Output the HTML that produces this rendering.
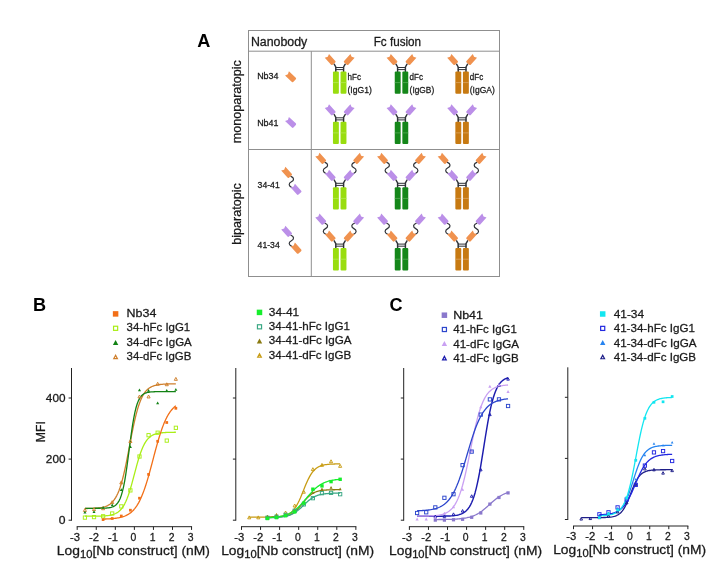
<!DOCTYPE html>
<html lang="en"><head><meta charset="utf-8"><title>Figure</title>
<style>html,body{margin:0;padding:0;background:#fff;}svg{display:block;font-family:"Liberation Sans", sans-serif;}text{white-space:pre;stroke:#1a1a1a;stroke-width:0.28px;stroke-linejoin:round;}text.b{stroke:none;}svg{will-change:transform;}</style></head><body>
<svg width="727" height="581" viewBox="0 0 727 581">
<rect width="727" height="581" fill="#fff"/>
<g fill="none" stroke="#8f8f8f" stroke-width="1">
<rect x="248.5" y="30.5" width="251.0" height="246.0"/>
<line x1="248.5" y1="51.2" x2="499.5" y2="51.2"/>
<line x1="248.5" y1="149.5" x2="499.5" y2="149.5"/>
<line x1="311.3" y1="51.2" x2="311.3" y2="276.5"/>
</g>
<text x="197.30" y="47.40" font-size="18.1" text-anchor="start" fill="#000" font-weight="bold" class="b" >A</text>
<text x="250.90" y="45.80" font-size="12.3" text-anchor="start" fill="#1a1a1a" textLength="56.40" lengthAdjust="spacingAndGlyphs" >Nanobody</text>
<text x="373.70" y="45.80" font-size="12.3" text-anchor="start" fill="#1a1a1a" textLength="47.40" lengthAdjust="spacingAndGlyphs" >Fc fusion</text>
<text x="241.00" y="143.20" font-size="12.5" text-anchor="start" fill="#1a1a1a" textLength="83.00" lengthAdjust="spacingAndGlyphs" transform="rotate(-90 241.00 143.20)" >monoparatopic</text>
<text x="241.00" y="244.70" font-size="12.5" text-anchor="start" fill="#1a1a1a" textLength="61.40" lengthAdjust="spacingAndGlyphs" transform="rotate(-90 241.00 244.70)" >biparatopic</text>
<text x="257.20" y="78.60" font-size="9.5" text-anchor="start" fill="#1a1a1a" textLength="21.30" lengthAdjust="spacingAndGlyphs" >Nb34</text>
<text x="257.20" y="125.80" font-size="9.5" text-anchor="start" fill="#1a1a1a" textLength="21.30" lengthAdjust="spacingAndGlyphs" >Nb41</text>
<text x="257.60" y="187.70" font-size="9.5" text-anchor="start" fill="#1a1a1a" textLength="22.10" lengthAdjust="spacingAndGlyphs" >34-41</text>
<text x="257.60" y="247.70" font-size="9.5" text-anchor="start" fill="#1a1a1a" textLength="22.10" lengthAdjust="spacingAndGlyphs" >41-34</text>
<text x="347.50" y="79.90" font-size="9.5" text-anchor="start" fill="#1a1a1a" textLength="13.40" lengthAdjust="spacingAndGlyphs" >hFc</text>
<text x="347.50" y="92.50" font-size="9.5" text-anchor="start" fill="#1a1a1a" textLength="24.40" lengthAdjust="spacingAndGlyphs" >(IgG1)</text>
<text x="409.60" y="79.90" font-size="9.5" text-anchor="start" fill="#1a1a1a" textLength="13.40" lengthAdjust="spacingAndGlyphs" >dFc</text>
<text x="409.60" y="92.50" font-size="9.5" text-anchor="start" fill="#1a1a1a" textLength="24.60" lengthAdjust="spacingAndGlyphs" >(IgGB)</text>
<text x="469.80" y="79.90" font-size="9.5" text-anchor="start" fill="#1a1a1a" textLength="13.40" lengthAdjust="spacingAndGlyphs" >dFc</text>
<text x="469.80" y="92.50" font-size="9.5" text-anchor="start" fill="#1a1a1a" textLength="25.00" lengthAdjust="spacingAndGlyphs" >(IgGA)</text>
<g fill="none" stroke="#2f3238" stroke-width="1.45" stroke-linecap="round" stroke-linejoin="round">
<path d="M335.80,71.70 L335.80,67.00 L334.20,64.20"/>
<path d="M343.60,71.70 L343.60,67.00 L345.20,64.20"/>
<line x1="335.80" y1="67.50" x2="343.60" y2="67.50" stroke-width="1.0"/>
<line x1="335.80" y1="69.60" x2="343.60" y2="69.60" stroke-width="1.0"/>
</g>
<path d="M-4.15,-2.85 L5.25,-2.85 L3.95,0 L5.25,2.85 L-4.15,2.85 Q-5.25,2.85 -5.25,1.75 L-5.25,-1.75 Q-5.25,-2.85 -4.15,-2.85 Z" fill="#f0924f" transform="translate(330.40 59.70) rotate(228)"/>
<path d="M-4.15,-2.85 L5.25,-2.85 L3.95,0 L5.25,2.85 L-4.15,2.85 Q-5.25,2.85 -5.25,1.75 L-5.25,-1.75 Q-5.25,-2.85 -4.15,-2.85 Z" fill="#f0924f" transform="translate(349.00 59.70) rotate(-48)"/>
<rect x="332.95" y="71.40" width="5.9" height="22.4" rx="1.0" fill="#99dd0f"/>
<line x1="332.95" y1="82.60" x2="338.85" y2="82.60" stroke="#b4e854" stroke-width="0.8"/>
<rect x="340.55" y="71.40" width="5.9" height="22.4" rx="1.0" fill="#99dd0f"/>
<line x1="340.55" y1="82.60" x2="346.45" y2="82.60" stroke="#b4e854" stroke-width="0.8"/>
<g fill="none" stroke="#2f3238" stroke-width="1.45" stroke-linecap="round" stroke-linejoin="round">
<path d="M335.80,122.00 L335.80,117.30 L334.20,114.50"/>
<path d="M343.60,122.00 L343.60,117.30 L345.20,114.50"/>
<line x1="335.80" y1="117.80" x2="343.60" y2="117.80" stroke-width="1.0"/>
<line x1="335.80" y1="119.90" x2="343.60" y2="119.90" stroke-width="1.0"/>
</g>
<path d="M-4.15,-2.85 L5.25,-2.85 L3.95,0 L5.25,2.85 L-4.15,2.85 Q-5.25,2.85 -5.25,1.75 L-5.25,-1.75 Q-5.25,-2.85 -4.15,-2.85 Z" fill="#bb8fe8" transform="translate(330.40 110.00) rotate(228)"/>
<path d="M-4.15,-2.85 L5.25,-2.85 L3.95,0 L5.25,2.85 L-4.15,2.85 Q-5.25,2.85 -5.25,1.75 L-5.25,-1.75 Q-5.25,-2.85 -4.15,-2.85 Z" fill="#bb8fe8" transform="translate(349.00 110.00) rotate(-48)"/>
<rect x="332.95" y="121.70" width="5.9" height="22.4" rx="1.0" fill="#99dd0f"/>
<line x1="332.95" y1="132.90" x2="338.85" y2="132.90" stroke="#b4e854" stroke-width="0.8"/>
<rect x="340.55" y="121.70" width="5.9" height="22.4" rx="1.0" fill="#99dd0f"/>
<line x1="340.55" y1="132.90" x2="346.45" y2="132.90" stroke="#b4e854" stroke-width="0.8"/>
<g fill="none" stroke="#2f3238" stroke-width="1.45" stroke-linecap="round" stroke-linejoin="round">
<path d="M335.80,187.50 L335.80,182.80 L334.20,180.00"/>
<path d="M343.60,187.50 L343.60,182.80 L345.20,180.00"/>
<line x1="335.80" y1="183.30" x2="343.60" y2="183.30" stroke-width="1.0"/>
<line x1="335.80" y1="185.40" x2="343.60" y2="185.40" stroke-width="1.0"/>
</g>
<path d="M325.00,162.40 C328.30,163.60 328.50,166.20 325.50,167.80 S322.50,171.80 325.80,173.50" fill="none" stroke="#2f3238" stroke-width="1.2" stroke-linecap="round"/>
<path d="M-4.15,-2.85 L5.25,-2.85 L3.95,0 L5.25,2.85 L-4.15,2.85 Q-5.25,2.85 -5.25,1.75 L-5.25,-1.75 Q-5.25,-2.85 -4.15,-2.85 Z" fill="#f0924f" transform="translate(320.90 158.60) rotate(228)"/>
<path d="M-4.15,-2.85 L5.25,-2.85 L3.95,0 L5.25,2.85 L-4.15,2.85 Q-5.25,2.85 -5.25,1.75 L-5.25,-1.75 Q-5.25,-2.85 -4.15,-2.85 Z" fill="#bb8fe8" transform="translate(330.40 175.50) rotate(228)"/>
<path d="M354.40,162.40 C351.10,163.60 350.90,166.20 353.90,167.80 S356.90,171.80 353.60,173.50" fill="none" stroke="#2f3238" stroke-width="1.2" stroke-linecap="round"/>
<path d="M-4.15,-2.85 L5.25,-2.85 L3.95,0 L5.25,2.85 L-4.15,2.85 Q-5.25,2.85 -5.25,1.75 L-5.25,-1.75 Q-5.25,-2.85 -4.15,-2.85 Z" fill="#f0924f" transform="translate(358.50 158.60) rotate(-48)"/>
<path d="M-4.15,-2.85 L5.25,-2.85 L3.95,0 L5.25,2.85 L-4.15,2.85 Q-5.25,2.85 -5.25,1.75 L-5.25,-1.75 Q-5.25,-2.85 -4.15,-2.85 Z" fill="#bb8fe8" transform="translate(349.00 175.50) rotate(-48)"/>
<rect x="332.95" y="187.20" width="5.9" height="22.4" rx="1.0" fill="#99dd0f"/>
<line x1="332.95" y1="198.40" x2="338.85" y2="198.40" stroke="#b4e854" stroke-width="0.8"/>
<rect x="340.55" y="187.20" width="5.9" height="22.4" rx="1.0" fill="#99dd0f"/>
<line x1="340.55" y1="198.40" x2="346.45" y2="198.40" stroke="#b4e854" stroke-width="0.8"/>
<g fill="none" stroke="#2f3238" stroke-width="1.45" stroke-linecap="round" stroke-linejoin="round">
<path d="M335.80,248.30 L335.80,243.60 L334.20,240.80"/>
<path d="M343.60,248.30 L343.60,243.60 L345.20,240.80"/>
<line x1="335.80" y1="244.10" x2="343.60" y2="244.10" stroke-width="1.0"/>
<line x1="335.80" y1="246.20" x2="343.60" y2="246.20" stroke-width="1.0"/>
</g>
<path d="M325.00,223.20 C328.30,224.40 328.50,227.00 325.50,228.60 S322.50,232.60 325.80,234.30" fill="none" stroke="#2f3238" stroke-width="1.2" stroke-linecap="round"/>
<path d="M-4.15,-2.85 L5.25,-2.85 L3.95,0 L5.25,2.85 L-4.15,2.85 Q-5.25,2.85 -5.25,1.75 L-5.25,-1.75 Q-5.25,-2.85 -4.15,-2.85 Z" fill="#bb8fe8" transform="translate(320.90 219.40) rotate(228)"/>
<path d="M-4.15,-2.85 L5.25,-2.85 L3.95,0 L5.25,2.85 L-4.15,2.85 Q-5.25,2.85 -5.25,1.75 L-5.25,-1.75 Q-5.25,-2.85 -4.15,-2.85 Z" fill="#f0924f" transform="translate(330.40 236.30) rotate(228)"/>
<path d="M354.40,223.20 C351.10,224.40 350.90,227.00 353.90,228.60 S356.90,232.60 353.60,234.30" fill="none" stroke="#2f3238" stroke-width="1.2" stroke-linecap="round"/>
<path d="M-4.15,-2.85 L5.25,-2.85 L3.95,0 L5.25,2.85 L-4.15,2.85 Q-5.25,2.85 -5.25,1.75 L-5.25,-1.75 Q-5.25,-2.85 -4.15,-2.85 Z" fill="#bb8fe8" transform="translate(358.50 219.40) rotate(-48)"/>
<path d="M-4.15,-2.85 L5.25,-2.85 L3.95,0 L5.25,2.85 L-4.15,2.85 Q-5.25,2.85 -5.25,1.75 L-5.25,-1.75 Q-5.25,-2.85 -4.15,-2.85 Z" fill="#f0924f" transform="translate(349.00 236.30) rotate(-48)"/>
<rect x="332.95" y="248.00" width="5.9" height="22.4" rx="1.0" fill="#99dd0f"/>
<line x1="332.95" y1="259.20" x2="338.85" y2="259.20" stroke="#b4e854" stroke-width="0.8"/>
<rect x="340.55" y="248.00" width="5.9" height="22.4" rx="1.0" fill="#99dd0f"/>
<line x1="340.55" y1="259.20" x2="346.45" y2="259.20" stroke="#b4e854" stroke-width="0.8"/>
<g fill="none" stroke="#2f3238" stroke-width="1.45" stroke-linecap="round" stroke-linejoin="round">
<path d="M397.60,71.70 L397.60,67.00 L396.00,64.20"/>
<path d="M405.40,71.70 L405.40,67.00 L407.00,64.20"/>
<line x1="397.60" y1="67.50" x2="405.40" y2="67.50" stroke-width="1.0"/>
<line x1="397.60" y1="69.60" x2="405.40" y2="69.60" stroke-width="1.0"/>
</g>
<path d="M-4.15,-2.85 L5.25,-2.85 L3.95,0 L5.25,2.85 L-4.15,2.85 Q-5.25,2.85 -5.25,1.75 L-5.25,-1.75 Q-5.25,-2.85 -4.15,-2.85 Z" fill="#f0924f" transform="translate(392.20 59.70) rotate(228)"/>
<path d="M-4.15,-2.85 L5.25,-2.85 L3.95,0 L5.25,2.85 L-4.15,2.85 Q-5.25,2.85 -5.25,1.75 L-5.25,-1.75 Q-5.25,-2.85 -4.15,-2.85 Z" fill="#f0924f" transform="translate(410.80 59.70) rotate(-48)"/>
<rect x="394.75" y="71.40" width="5.9" height="22.4" rx="1.0" fill="#15871a"/>
<line x1="394.75" y1="82.60" x2="400.65" y2="82.60" stroke="#55ab58" stroke-width="0.8"/>
<rect x="402.35" y="71.40" width="5.9" height="22.4" rx="1.0" fill="#15871a"/>
<line x1="402.35" y1="82.60" x2="408.25" y2="82.60" stroke="#55ab58" stroke-width="0.8"/>
<g fill="none" stroke="#2f3238" stroke-width="1.45" stroke-linecap="round" stroke-linejoin="round">
<path d="M397.60,122.00 L397.60,117.30 L396.00,114.50"/>
<path d="M405.40,122.00 L405.40,117.30 L407.00,114.50"/>
<line x1="397.60" y1="117.80" x2="405.40" y2="117.80" stroke-width="1.0"/>
<line x1="397.60" y1="119.90" x2="405.40" y2="119.90" stroke-width="1.0"/>
</g>
<path d="M-4.15,-2.85 L5.25,-2.85 L3.95,0 L5.25,2.85 L-4.15,2.85 Q-5.25,2.85 -5.25,1.75 L-5.25,-1.75 Q-5.25,-2.85 -4.15,-2.85 Z" fill="#bb8fe8" transform="translate(392.20 110.00) rotate(228)"/>
<path d="M-4.15,-2.85 L5.25,-2.85 L3.95,0 L5.25,2.85 L-4.15,2.85 Q-5.25,2.85 -5.25,1.75 L-5.25,-1.75 Q-5.25,-2.85 -4.15,-2.85 Z" fill="#bb8fe8" transform="translate(410.80 110.00) rotate(-48)"/>
<rect x="394.75" y="121.70" width="5.9" height="22.4" rx="1.0" fill="#15871a"/>
<line x1="394.75" y1="132.90" x2="400.65" y2="132.90" stroke="#55ab58" stroke-width="0.8"/>
<rect x="402.35" y="121.70" width="5.9" height="22.4" rx="1.0" fill="#15871a"/>
<line x1="402.35" y1="132.90" x2="408.25" y2="132.90" stroke="#55ab58" stroke-width="0.8"/>
<g fill="none" stroke="#2f3238" stroke-width="1.45" stroke-linecap="round" stroke-linejoin="round">
<path d="M397.60,187.50 L397.60,182.80 L396.00,180.00"/>
<path d="M405.40,187.50 L405.40,182.80 L407.00,180.00"/>
<line x1="397.60" y1="183.30" x2="405.40" y2="183.30" stroke-width="1.0"/>
<line x1="397.60" y1="185.40" x2="405.40" y2="185.40" stroke-width="1.0"/>
</g>
<path d="M386.80,162.40 C390.10,163.60 390.30,166.20 387.30,167.80 S384.30,171.80 387.60,173.50" fill="none" stroke="#2f3238" stroke-width="1.2" stroke-linecap="round"/>
<path d="M-4.15,-2.85 L5.25,-2.85 L3.95,0 L5.25,2.85 L-4.15,2.85 Q-5.25,2.85 -5.25,1.75 L-5.25,-1.75 Q-5.25,-2.85 -4.15,-2.85 Z" fill="#f0924f" transform="translate(382.70 158.60) rotate(228)"/>
<path d="M-4.15,-2.85 L5.25,-2.85 L3.95,0 L5.25,2.85 L-4.15,2.85 Q-5.25,2.85 -5.25,1.75 L-5.25,-1.75 Q-5.25,-2.85 -4.15,-2.85 Z" fill="#bb8fe8" transform="translate(392.20 175.50) rotate(228)"/>
<path d="M416.20,162.40 C412.90,163.60 412.70,166.20 415.70,167.80 S418.70,171.80 415.40,173.50" fill="none" stroke="#2f3238" stroke-width="1.2" stroke-linecap="round"/>
<path d="M-4.15,-2.85 L5.25,-2.85 L3.95,0 L5.25,2.85 L-4.15,2.85 Q-5.25,2.85 -5.25,1.75 L-5.25,-1.75 Q-5.25,-2.85 -4.15,-2.85 Z" fill="#f0924f" transform="translate(420.30 158.60) rotate(-48)"/>
<path d="M-4.15,-2.85 L5.25,-2.85 L3.95,0 L5.25,2.85 L-4.15,2.85 Q-5.25,2.85 -5.25,1.75 L-5.25,-1.75 Q-5.25,-2.85 -4.15,-2.85 Z" fill="#bb8fe8" transform="translate(410.80 175.50) rotate(-48)"/>
<rect x="394.75" y="187.20" width="5.9" height="22.4" rx="1.0" fill="#15871a"/>
<line x1="394.75" y1="198.40" x2="400.65" y2="198.40" stroke="#55ab58" stroke-width="0.8"/>
<rect x="402.35" y="187.20" width="5.9" height="22.4" rx="1.0" fill="#15871a"/>
<line x1="402.35" y1="198.40" x2="408.25" y2="198.40" stroke="#55ab58" stroke-width="0.8"/>
<g fill="none" stroke="#2f3238" stroke-width="1.45" stroke-linecap="round" stroke-linejoin="round">
<path d="M397.60,248.30 L397.60,243.60 L396.00,240.80"/>
<path d="M405.40,248.30 L405.40,243.60 L407.00,240.80"/>
<line x1="397.60" y1="244.10" x2="405.40" y2="244.10" stroke-width="1.0"/>
<line x1="397.60" y1="246.20" x2="405.40" y2="246.20" stroke-width="1.0"/>
</g>
<path d="M386.80,223.20 C390.10,224.40 390.30,227.00 387.30,228.60 S384.30,232.60 387.60,234.30" fill="none" stroke="#2f3238" stroke-width="1.2" stroke-linecap="round"/>
<path d="M-4.15,-2.85 L5.25,-2.85 L3.95,0 L5.25,2.85 L-4.15,2.85 Q-5.25,2.85 -5.25,1.75 L-5.25,-1.75 Q-5.25,-2.85 -4.15,-2.85 Z" fill="#bb8fe8" transform="translate(382.70 219.40) rotate(228)"/>
<path d="M-4.15,-2.85 L5.25,-2.85 L3.95,0 L5.25,2.85 L-4.15,2.85 Q-5.25,2.85 -5.25,1.75 L-5.25,-1.75 Q-5.25,-2.85 -4.15,-2.85 Z" fill="#f0924f" transform="translate(392.20 236.30) rotate(228)"/>
<path d="M416.20,223.20 C412.90,224.40 412.70,227.00 415.70,228.60 S418.70,232.60 415.40,234.30" fill="none" stroke="#2f3238" stroke-width="1.2" stroke-linecap="round"/>
<path d="M-4.15,-2.85 L5.25,-2.85 L3.95,0 L5.25,2.85 L-4.15,2.85 Q-5.25,2.85 -5.25,1.75 L-5.25,-1.75 Q-5.25,-2.85 -4.15,-2.85 Z" fill="#bb8fe8" transform="translate(420.30 219.40) rotate(-48)"/>
<path d="M-4.15,-2.85 L5.25,-2.85 L3.95,0 L5.25,2.85 L-4.15,2.85 Q-5.25,2.85 -5.25,1.75 L-5.25,-1.75 Q-5.25,-2.85 -4.15,-2.85 Z" fill="#f0924f" transform="translate(410.80 236.30) rotate(-48)"/>
<rect x="394.75" y="248.00" width="5.9" height="22.4" rx="1.0" fill="#15871a"/>
<line x1="394.75" y1="259.20" x2="400.65" y2="259.20" stroke="#55ab58" stroke-width="0.8"/>
<rect x="402.35" y="248.00" width="5.9" height="22.4" rx="1.0" fill="#15871a"/>
<line x1="402.35" y1="259.20" x2="408.25" y2="259.20" stroke="#55ab58" stroke-width="0.8"/>
<g fill="none" stroke="#2f3238" stroke-width="1.45" stroke-linecap="round" stroke-linejoin="round">
<path d="M458.20,71.70 L458.20,67.00 L456.60,64.20"/>
<path d="M466.00,71.70 L466.00,67.00 L467.60,64.20"/>
<line x1="458.20" y1="67.50" x2="466.00" y2="67.50" stroke-width="1.0"/>
<line x1="458.20" y1="69.60" x2="466.00" y2="69.60" stroke-width="1.0"/>
</g>
<path d="M-4.15,-2.85 L5.25,-2.85 L3.95,0 L5.25,2.85 L-4.15,2.85 Q-5.25,2.85 -5.25,1.75 L-5.25,-1.75 Q-5.25,-2.85 -4.15,-2.85 Z" fill="#f0924f" transform="translate(452.80 59.70) rotate(228)"/>
<path d="M-4.15,-2.85 L5.25,-2.85 L3.95,0 L5.25,2.85 L-4.15,2.85 Q-5.25,2.85 -5.25,1.75 L-5.25,-1.75 Q-5.25,-2.85 -4.15,-2.85 Z" fill="#f0924f" transform="translate(471.40 59.70) rotate(-48)"/>
<rect x="455.35" y="71.40" width="5.9" height="22.4" rx="1.0" fill="#c77a12"/>
<line x1="455.35" y1="82.60" x2="461.25" y2="82.60" stroke="#dba562" stroke-width="0.8"/>
<rect x="462.95" y="71.40" width="5.9" height="22.4" rx="1.0" fill="#c77a12"/>
<line x1="462.95" y1="82.60" x2="468.85" y2="82.60" stroke="#dba562" stroke-width="0.8"/>
<g fill="none" stroke="#2f3238" stroke-width="1.45" stroke-linecap="round" stroke-linejoin="round">
<path d="M458.20,122.00 L458.20,117.30 L456.60,114.50"/>
<path d="M466.00,122.00 L466.00,117.30 L467.60,114.50"/>
<line x1="458.20" y1="117.80" x2="466.00" y2="117.80" stroke-width="1.0"/>
<line x1="458.20" y1="119.90" x2="466.00" y2="119.90" stroke-width="1.0"/>
</g>
<path d="M-4.15,-2.85 L5.25,-2.85 L3.95,0 L5.25,2.85 L-4.15,2.85 Q-5.25,2.85 -5.25,1.75 L-5.25,-1.75 Q-5.25,-2.85 -4.15,-2.85 Z" fill="#bb8fe8" transform="translate(452.80 110.00) rotate(228)"/>
<path d="M-4.15,-2.85 L5.25,-2.85 L3.95,0 L5.25,2.85 L-4.15,2.85 Q-5.25,2.85 -5.25,1.75 L-5.25,-1.75 Q-5.25,-2.85 -4.15,-2.85 Z" fill="#bb8fe8" transform="translate(471.40 110.00) rotate(-48)"/>
<rect x="455.35" y="121.70" width="5.9" height="22.4" rx="1.0" fill="#c77a12"/>
<line x1="455.35" y1="132.90" x2="461.25" y2="132.90" stroke="#dba562" stroke-width="0.8"/>
<rect x="462.95" y="121.70" width="5.9" height="22.4" rx="1.0" fill="#c77a12"/>
<line x1="462.95" y1="132.90" x2="468.85" y2="132.90" stroke="#dba562" stroke-width="0.8"/>
<g fill="none" stroke="#2f3238" stroke-width="1.45" stroke-linecap="round" stroke-linejoin="round">
<path d="M458.20,187.50 L458.20,182.80 L456.60,180.00"/>
<path d="M466.00,187.50 L466.00,182.80 L467.60,180.00"/>
<line x1="458.20" y1="183.30" x2="466.00" y2="183.30" stroke-width="1.0"/>
<line x1="458.20" y1="185.40" x2="466.00" y2="185.40" stroke-width="1.0"/>
</g>
<path d="M447.40,162.40 C450.70,163.60 450.90,166.20 447.90,167.80 S444.90,171.80 448.20,173.50" fill="none" stroke="#2f3238" stroke-width="1.2" stroke-linecap="round"/>
<path d="M-4.15,-2.85 L5.25,-2.85 L3.95,0 L5.25,2.85 L-4.15,2.85 Q-5.25,2.85 -5.25,1.75 L-5.25,-1.75 Q-5.25,-2.85 -4.15,-2.85 Z" fill="#f0924f" transform="translate(443.30 158.60) rotate(228)"/>
<path d="M-4.15,-2.85 L5.25,-2.85 L3.95,0 L5.25,2.85 L-4.15,2.85 Q-5.25,2.85 -5.25,1.75 L-5.25,-1.75 Q-5.25,-2.85 -4.15,-2.85 Z" fill="#bb8fe8" transform="translate(452.80 175.50) rotate(228)"/>
<path d="M476.80,162.40 C473.50,163.60 473.30,166.20 476.30,167.80 S479.30,171.80 476.00,173.50" fill="none" stroke="#2f3238" stroke-width="1.2" stroke-linecap="round"/>
<path d="M-4.15,-2.85 L5.25,-2.85 L3.95,0 L5.25,2.85 L-4.15,2.85 Q-5.25,2.85 -5.25,1.75 L-5.25,-1.75 Q-5.25,-2.85 -4.15,-2.85 Z" fill="#f0924f" transform="translate(480.90 158.60) rotate(-48)"/>
<path d="M-4.15,-2.85 L5.25,-2.85 L3.95,0 L5.25,2.85 L-4.15,2.85 Q-5.25,2.85 -5.25,1.75 L-5.25,-1.75 Q-5.25,-2.85 -4.15,-2.85 Z" fill="#bb8fe8" transform="translate(471.40 175.50) rotate(-48)"/>
<rect x="455.35" y="187.20" width="5.9" height="22.4" rx="1.0" fill="#c77a12"/>
<line x1="455.35" y1="198.40" x2="461.25" y2="198.40" stroke="#dba562" stroke-width="0.8"/>
<rect x="462.95" y="187.20" width="5.9" height="22.4" rx="1.0" fill="#c77a12"/>
<line x1="462.95" y1="198.40" x2="468.85" y2="198.40" stroke="#dba562" stroke-width="0.8"/>
<g fill="none" stroke="#2f3238" stroke-width="1.45" stroke-linecap="round" stroke-linejoin="round">
<path d="M458.20,248.30 L458.20,243.60 L456.60,240.80"/>
<path d="M466.00,248.30 L466.00,243.60 L467.60,240.80"/>
<line x1="458.20" y1="244.10" x2="466.00" y2="244.10" stroke-width="1.0"/>
<line x1="458.20" y1="246.20" x2="466.00" y2="246.20" stroke-width="1.0"/>
</g>
<path d="M447.40,223.20 C450.70,224.40 450.90,227.00 447.90,228.60 S444.90,232.60 448.20,234.30" fill="none" stroke="#2f3238" stroke-width="1.2" stroke-linecap="round"/>
<path d="M-4.15,-2.85 L5.25,-2.85 L3.95,0 L5.25,2.85 L-4.15,2.85 Q-5.25,2.85 -5.25,1.75 L-5.25,-1.75 Q-5.25,-2.85 -4.15,-2.85 Z" fill="#bb8fe8" transform="translate(443.30 219.40) rotate(228)"/>
<path d="M-4.15,-2.85 L5.25,-2.85 L3.95,0 L5.25,2.85 L-4.15,2.85 Q-5.25,2.85 -5.25,1.75 L-5.25,-1.75 Q-5.25,-2.85 -4.15,-2.85 Z" fill="#f0924f" transform="translate(452.80 236.30) rotate(228)"/>
<path d="M476.80,223.20 C473.50,224.40 473.30,227.00 476.30,228.60 S479.30,232.60 476.00,234.30" fill="none" stroke="#2f3238" stroke-width="1.2" stroke-linecap="round"/>
<path d="M-4.15,-2.85 L5.25,-2.85 L3.95,0 L5.25,2.85 L-4.15,2.85 Q-5.25,2.85 -5.25,1.75 L-5.25,-1.75 Q-5.25,-2.85 -4.15,-2.85 Z" fill="#bb8fe8" transform="translate(480.90 219.40) rotate(-48)"/>
<path d="M-4.15,-2.85 L5.25,-2.85 L3.95,0 L5.25,2.85 L-4.15,2.85 Q-5.25,2.85 -5.25,1.75 L-5.25,-1.75 Q-5.25,-2.85 -4.15,-2.85 Z" fill="#f0924f" transform="translate(471.40 236.30) rotate(-48)"/>
<rect x="455.35" y="248.00" width="5.9" height="22.4" rx="1.0" fill="#c77a12"/>
<line x1="455.35" y1="259.20" x2="461.25" y2="259.20" stroke="#dba562" stroke-width="0.8"/>
<rect x="462.95" y="248.00" width="5.9" height="22.4" rx="1.0" fill="#c77a12"/>
<line x1="462.95" y1="259.20" x2="468.85" y2="259.20" stroke="#dba562" stroke-width="0.8"/>
<path d="M-4.15,-2.85 L5.25,-2.85 L3.95,0 L5.25,2.85 L-4.15,2.85 Q-5.25,2.85 -5.25,1.75 L-5.25,-1.75 Q-5.25,-2.85 -4.15,-2.85 Z" fill="#f0924f" transform="translate(290.80 77.00) rotate(223)"/>
<path d="M-4.15,-2.85 L5.25,-2.85 L3.95,0 L5.25,2.85 L-4.15,2.85 Q-5.25,2.85 -5.25,1.75 L-5.25,-1.75 Q-5.25,-2.85 -4.15,-2.85 Z" fill="#bb8fe8" transform="translate(290.80 122.60) rotate(223)"/>
<path d="M290.90,176.40 C294.20,177.60 294.40,180.20 291.40,181.80 S288.40,185.80 291.70,187.50" fill="none" stroke="#2f3238" stroke-width="1.2" stroke-linecap="round"/>
<path d="M-4.15,-2.85 L5.25,-2.85 L3.95,0 L5.25,2.85 L-4.15,2.85 Q-5.25,2.85 -5.25,1.75 L-5.25,-1.75 Q-5.25,-2.85 -4.15,-2.85 Z" fill="#f0924f" transform="translate(286.80 172.60) rotate(228)"/>
<path d="M-4.15,-2.85 L5.25,-2.85 L3.95,0 L5.25,2.85 L-4.15,2.85 Q-5.25,2.85 -5.25,1.75 L-5.25,-1.75 Q-5.25,-2.85 -4.15,-2.85 Z" fill="#bb8fe8" transform="translate(296.30 189.50) rotate(228)"/>
<path d="M290.90,235.30 C294.20,236.50 294.40,239.10 291.40,240.70 S288.40,244.70 291.70,246.40" fill="none" stroke="#2f3238" stroke-width="1.2" stroke-linecap="round"/>
<path d="M-4.15,-2.85 L5.25,-2.85 L3.95,0 L5.25,2.85 L-4.15,2.85 Q-5.25,2.85 -5.25,1.75 L-5.25,-1.75 Q-5.25,-2.85 -4.15,-2.85 Z" fill="#bb8fe8" transform="translate(286.80 231.50) rotate(228)"/>
<path d="M-4.15,-2.85 L5.25,-2.85 L3.95,0 L5.25,2.85 L-4.15,2.85 Q-5.25,2.85 -5.25,1.75 L-5.25,-1.75 Q-5.25,-2.85 -4.15,-2.85 Z" fill="#f0924f" transform="translate(296.30 248.40) rotate(228)"/>
<text x="33.10" y="311.10" font-size="18.1" text-anchor="start" fill="#000" font-weight="bold" class="b" >B</text>
<text x="389.50" y="311.20" font-size="18.1" text-anchor="start" fill="#000" font-weight="bold" class="b" >C</text>
<g stroke="#222222" stroke-width="1" fill="none">
<line x1="71.5" y1="368.00" x2="71.5" y2="520.70"/>
<line x1="68.60" y1="520.20" x2="71.50" y2="520.20"/>
<line x1="68.60" y1="459.10" x2="71.50" y2="459.10"/>
<line x1="68.60" y1="398.00" x2="71.50" y2="398.00"/>
<line x1="76.70" y1="526.70" x2="192.06" y2="526.70"/>
<line x1="77.20" y1="526.70" x2="77.20" y2="529.90"/>
<line x1="96.26" y1="526.70" x2="96.26" y2="529.90"/>
<line x1="115.32" y1="526.70" x2="115.32" y2="529.90"/>
<line x1="134.38" y1="526.70" x2="134.38" y2="529.90"/>
<line x1="153.44" y1="526.70" x2="153.44" y2="529.90"/>
<line x1="172.50" y1="526.70" x2="172.50" y2="529.90"/>
<line x1="191.56" y1="526.70" x2="191.56" y2="529.90"/>
</g>
<text x="74.90" y="541.00" font-size="11.4" text-anchor="middle" fill="#1a1a1a" textLength="10.00" lengthAdjust="spacingAndGlyphs" >-3</text>
<text x="93.96" y="541.00" font-size="11.4" text-anchor="middle" fill="#1a1a1a" textLength="10.00" lengthAdjust="spacingAndGlyphs" >-2</text>
<text x="113.02" y="541.00" font-size="11.4" text-anchor="middle" fill="#1a1a1a" textLength="10.00" lengthAdjust="spacingAndGlyphs" >-1</text>
<text x="133.48" y="541.00" font-size="11.4" text-anchor="middle" fill="#1a1a1a" textLength="5.80" lengthAdjust="spacingAndGlyphs" >0</text>
<text x="152.54" y="541.00" font-size="11.4" text-anchor="middle" fill="#1a1a1a" textLength="5.80" lengthAdjust="spacingAndGlyphs" >1</text>
<text x="171.60" y="541.00" font-size="11.4" text-anchor="middle" fill="#1a1a1a" textLength="5.80" lengthAdjust="spacingAndGlyphs" >2</text>
<text x="190.66" y="541.00" font-size="11.4" text-anchor="middle" fill="#1a1a1a" textLength="5.80" lengthAdjust="spacingAndGlyphs" >3</text>
<text x="56.88" y="554.60" font-size="13.1" fill="#1a1a1a" textLength="153.0" lengthAdjust="spacingAndGlyphs">Log<tspan font-size="10.6" dy="2.9">10</tspan><tspan dy="-2.9">[Nb construct] (nM)</tspan></text>
<text x="65.50" y="524.30" font-size="11.4" text-anchor="end" fill="#1a1a1a" textLength="6.75" lengthAdjust="spacingAndGlyphs" >0</text>
<text x="65.50" y="463.20" font-size="11.4" text-anchor="end" fill="#1a1a1a" textLength="19.65" lengthAdjust="spacingAndGlyphs" >200</text>
<text x="65.50" y="402.10" font-size="11.4" text-anchor="end" fill="#1a1a1a" textLength="19.65" lengthAdjust="spacingAndGlyphs" >400</text>
<text x="45.00" y="442.20" font-size="13.1" text-anchor="start" fill="#1a1a1a" textLength="21.00" lengthAdjust="spacingAndGlyphs" transform="rotate(-90 45.00 442.20)" >MFI</text>
<polyline points="84.94,508.52 86.07,508.51 87.21,508.49 88.35,508.47 89.48,508.45 90.62,508.42 91.76,508.38 92.89,508.34 94.03,508.28 95.17,508.22 96.30,508.14 97.44,508.04 98.58,507.92 99.71,507.78 100.85,507.61 101.99,507.41 103.12,507.16 104.26,506.86 105.39,506.50 106.53,506.07 107.67,505.55 108.80,504.92 109.94,504.17 111.08,503.28 112.21,502.21 113.35,500.94 114.49,499.44 115.62,497.67 116.76,495.59 117.90,493.18 119.03,490.39 120.17,487.19 121.30,483.56 122.44,479.50 123.58,474.99 124.71,470.07 125.85,464.77 126.99,459.16 128.12,453.33 129.26,447.36 130.40,441.37 131.53,435.48 132.67,429.77 133.81,424.34 134.94,419.27 136.08,414.59 137.22,410.35 138.35,406.56 139.49,403.20 140.62,400.25 141.76,397.69 142.90,395.49 144.03,393.61 145.17,392.00 146.31,390.65 147.44,389.50 148.58,388.54 149.72,387.74 150.85,387.07 151.99,386.51 153.13,386.04 154.26,385.65 155.40,385.33 156.53,385.07 157.67,384.85 158.81,384.66 159.94,384.51 161.08,384.39 162.22,384.28 163.35,384.20 164.49,384.13 165.63,384.07 166.76,384.02 167.90,383.98 169.04,383.95 170.17,383.92 171.31,383.90 172.45,383.88 173.58,383.87 174.72,383.85 175.85,383.84" fill="none" stroke="#cf7f2c" stroke-width="1.3" stroke-linejoin="round"/>
<polyline points="84.94,508.28 86.07,508.28 87.21,508.28 88.35,508.28 89.48,508.28 90.62,508.28 91.76,508.28 92.89,508.28 94.03,508.28 95.17,508.27 96.30,508.27 97.44,508.26 98.58,508.25 99.71,508.24 100.85,508.22 101.99,508.20 103.12,508.17 104.26,508.13 105.39,508.07 106.53,508.00 107.67,507.90 108.80,507.76 109.94,507.58 111.08,507.33 112.21,507.00 113.35,506.56 114.49,505.96 115.62,505.16 116.76,504.09 117.90,502.69 119.03,500.84 120.17,498.44 121.30,495.35 122.44,491.44 123.58,486.61 124.71,480.77 125.85,473.92 126.99,466.18 128.12,457.76 129.26,448.99 130.40,440.27 131.53,431.97 132.67,424.40 133.81,417.77 134.94,412.14 136.08,407.52 137.22,403.80 138.35,400.87 139.49,398.59 140.62,396.85 141.76,395.52 142.90,394.52 144.03,393.77 145.17,393.21 146.31,392.79 147.44,392.48 148.58,392.25 149.72,392.07 150.85,391.95 151.99,391.85 153.13,391.78 154.26,391.73 155.40,391.69 156.53,391.66 157.67,391.64 158.81,391.63 159.94,391.62 161.08,391.61 162.22,391.60 163.35,391.60 164.49,391.59 165.63,391.59 166.76,391.59 167.90,391.59 169.04,391.59 170.17,391.59 171.31,391.59 172.45,391.59 173.58,391.59 174.72,391.59 175.85,391.58" fill="none" stroke="#128214" stroke-width="1.3" stroke-linejoin="round"/>
<polyline points="84.94,516.22 86.07,516.22 87.21,516.21 88.35,516.21 89.48,516.20 90.62,516.20 91.76,516.19 92.89,516.18 94.03,516.17 95.17,516.16 96.30,516.14 97.44,516.12 98.58,516.10 99.71,516.07 100.85,516.04 101.99,515.99 103.12,515.94 104.26,515.87 105.39,515.79 106.53,515.69 107.67,515.57 108.80,515.42 109.94,515.24 111.08,515.01 112.21,514.74 113.35,514.41 114.49,514.00 115.62,513.51 116.76,512.92 117.90,512.20 119.03,511.33 120.17,510.29 121.30,509.04 122.44,507.57 123.58,505.83 124.71,503.81 125.85,501.47 126.99,498.79 128.12,495.77 129.26,492.42 130.40,488.76 131.53,484.82 132.67,480.68 133.81,476.41 134.94,472.08 136.08,467.81 137.22,463.66 138.35,459.73 139.49,456.06 140.62,452.70 141.76,449.68 142.90,447.01 144.03,444.66 145.17,442.63 146.31,440.89 147.44,439.42 148.58,438.17 149.72,437.13 150.85,436.26 151.99,435.54 153.13,434.94 154.26,434.44 155.40,434.04 156.53,433.71 157.67,433.43 158.81,433.21 159.94,433.03 161.08,432.88 162.22,432.75 163.35,432.65 164.49,432.57 165.63,432.51 166.76,432.45 167.90,432.41 169.04,432.37 170.17,432.34 171.31,432.32 172.45,432.30 173.58,432.29 174.72,432.27 175.85,432.26" fill="none" stroke="#a9ee16" stroke-width="1.3" stroke-linejoin="round"/>
<polyline points="103.12,519.07 104.03,519.05 104.94,519.02 105.85,518.98 106.76,518.95 107.67,518.91 108.58,518.86 109.49,518.81 110.39,518.75 111.30,518.69 112.21,518.61 113.12,518.53 114.03,518.44 114.94,518.34 115.85,518.23 116.76,518.10 117.67,517.95 118.58,517.79 119.49,517.61 120.40,517.41 121.30,517.19 122.21,516.94 123.12,516.66 124.03,516.34 124.94,515.99 125.85,515.60 126.76,515.17 127.67,514.69 128.58,514.15 129.49,513.55 130.40,512.89 131.31,512.15 132.21,511.34 133.12,510.44 134.03,509.44 134.94,508.35 135.85,507.15 136.76,505.83 137.67,504.39 138.58,502.82 139.49,501.12 140.40,499.27 141.31,497.27 142.22,495.12 143.12,492.82 144.03,490.37 144.94,487.77 145.85,485.01 146.76,482.13 147.67,479.11 148.58,475.97 149.49,472.74 150.40,469.42 151.31,466.03 152.22,462.60 153.13,459.15 154.03,455.70 154.94,452.28 155.85,448.90 156.76,445.59 157.67,442.37 158.58,439.25 159.49,436.25 160.40,433.38 161.31,430.65 162.22,428.07 163.13,425.64 164.04,423.36 164.94,421.24 165.85,419.26 166.76,417.43 167.67,415.75 168.58,414.20 169.49,412.78 170.40,411.48 171.31,410.29 172.22,409.21 173.13,408.24 174.04,407.35 174.95,406.55 175.85,405.82" fill="none" stroke="#f26f17" stroke-width="1.3" stroke-linejoin="round"/>
<path d="M174.31,380.33 L177.39,380.33 L175.85,377.40 Z" fill="none" stroke="#cf7f2c" stroke-width="0.95" stroke-linejoin="miter"/>
<path d="M165.22,385.73 L168.30,385.73 L166.76,382.80 Z" fill="none" stroke="#cf7f2c" stroke-width="0.95" stroke-linejoin="miter"/>
<path d="M156.13,385.23 L159.21,385.23 L157.67,382.30 Z" fill="none" stroke="#cf7f2c" stroke-width="0.95" stroke-linejoin="miter"/>
<path d="M147.03,397.93 L150.11,397.93 L148.57,395.00 Z" fill="none" stroke="#cf7f2c" stroke-width="0.95" stroke-linejoin="miter"/>
<path d="M137.94,397.93 L141.02,397.93 L139.48,395.00 Z" fill="none" stroke="#cf7f2c" stroke-width="0.95" stroke-linejoin="miter"/>
<path d="M128.85,442.53 L131.93,442.53 L130.39,439.60 Z" fill="none" stroke="#cf7f2c" stroke-width="0.95" stroke-linejoin="miter"/>
<path d="M119.75,483.83 L122.83,483.83 L121.29,480.90 Z" fill="none" stroke="#cf7f2c" stroke-width="0.95" stroke-linejoin="miter"/>
<path d="M110.66,503.63 L113.74,503.63 L112.20,500.70 Z" fill="none" stroke="#cf7f2c" stroke-width="0.95" stroke-linejoin="miter"/>
<path d="M101.57,509.73 L104.65,509.73 L103.11,506.80 Z" fill="none" stroke="#cf7f2c" stroke-width="0.95" stroke-linejoin="miter"/>
<path d="M92.47,510.63 L95.55,510.63 L94.01,507.70 Z" fill="none" stroke="#cf7f2c" stroke-width="0.95" stroke-linejoin="miter"/>
<path d="M83.38,511.43 L86.46,511.43 L84.92,508.50 Z" fill="none" stroke="#cf7f2c" stroke-width="0.95" stroke-linejoin="miter"/>
<path d="M174.33,390.67 L177.37,390.67 L175.85,387.88 Z" fill="#128214"/>
<path d="M165.24,391.77 L168.28,391.77 L166.76,388.98 Z" fill="#128214"/>
<path d="M156.15,404.17 L159.19,404.17 L157.67,401.38 Z" fill="#128214"/>
<path d="M147.05,391.77 L150.09,391.77 L148.57,388.98 Z" fill="#128214"/>
<path d="M137.96,391.27 L141.00,391.27 L139.48,388.48 Z" fill="#128214"/>
<path d="M128.87,447.97 L131.91,447.97 L130.39,445.18 Z" fill="#128214"/>
<path d="M119.77,491.07 L122.81,491.07 L121.29,488.28 Z" fill="#128214"/>
<path d="M110.68,506.37 L113.72,506.37 L112.20,503.58 Z" fill="#128214"/>
<path d="M101.59,508.87 L104.63,508.87 L103.11,506.08 Z" fill="#128214"/>
<path d="M92.49,512.97 L95.53,512.97 L94.01,510.18 Z" fill="#128214"/>
<path d="M83.40,513.47 L86.44,513.47 L84.92,510.68 Z" fill="#128214"/>
<rect x="174.23" y="426.18" width="3.25" height="3.25" fill="none" stroke="#a9ee16" stroke-width="0.95"/>
<rect x="165.14" y="438.98" width="3.25" height="3.25" fill="none" stroke="#a9ee16" stroke-width="0.95"/>
<rect x="156.04" y="431.07" width="3.25" height="3.25" fill="none" stroke="#a9ee16" stroke-width="0.95"/>
<rect x="146.95" y="433.57" width="3.25" height="3.25" fill="none" stroke="#a9ee16" stroke-width="0.95"/>
<rect x="137.86" y="454.88" width="3.25" height="3.25" fill="none" stroke="#a9ee16" stroke-width="0.95"/>
<rect x="128.76" y="488.77" width="3.25" height="3.25" fill="none" stroke="#a9ee16" stroke-width="0.95"/>
<rect x="119.67" y="504.77" width="3.25" height="3.25" fill="none" stroke="#a9ee16" stroke-width="0.95"/>
<rect x="110.57" y="511.88" width="3.25" height="3.25" fill="none" stroke="#a9ee16" stroke-width="0.95"/>
<rect x="101.48" y="514.67" width="3.25" height="3.25" fill="none" stroke="#a9ee16" stroke-width="0.95"/>
<rect x="92.39" y="515.48" width="3.25" height="3.25" fill="none" stroke="#a9ee16" stroke-width="0.95"/>
<rect x="83.29" y="515.98" width="3.25" height="3.25" fill="none" stroke="#a9ee16" stroke-width="0.95"/>
<rect x="174.49" y="406.94" width="2.72" height="2.72" fill="#f26f17"/>
<rect x="165.40" y="421.14" width="2.72" height="2.72" fill="#f26f17"/>
<rect x="156.31" y="439.94" width="2.72" height="2.72" fill="#f26f17"/>
<rect x="147.21" y="473.04" width="2.72" height="2.72" fill="#f26f17"/>
<rect x="138.12" y="496.84" width="2.72" height="2.72" fill="#f26f17"/>
<rect x="129.03" y="508.84" width="2.72" height="2.72" fill="#f26f17"/>
<rect x="119.93" y="514.64" width="2.72" height="2.72" fill="#f26f17"/>
<rect x="110.84" y="517.14" width="2.72" height="2.72" fill="#f26f17"/>
<rect x="101.75" y="518.24" width="2.72" height="2.72" fill="#f26f17"/>
<rect x="112.85" y="311.15" width="5.50" height="5.50" fill="#f26f17"/>
<text x="126.60" y="317.00" font-size="11.6" text-anchor="start" fill="#1a1a1a" textLength="29.80" lengthAdjust="spacingAndGlyphs" >Nb34</text>
<rect x="113.55" y="326.25" width="4.10" height="4.10" fill="none" stroke="#a9ee16" stroke-width="1.20"/>
<text x="126.60" y="331.40" font-size="11.6" text-anchor="start" fill="#1a1a1a" textLength="63.60" lengthAdjust="spacingAndGlyphs" >34-hFc IgG1</text>
<path d="M112.90,344.89 L118.30,344.89 L115.60,339.92 Z" fill="#128214"/>
<text x="126.60" y="345.90" font-size="11.6" text-anchor="start" fill="#1a1a1a" textLength="65.20" lengthAdjust="spacingAndGlyphs" >34-dFc IgGA</text>
<path d="M113.76,358.67 L117.44,358.67 L115.60,355.17 Z" fill="none" stroke="#cf7f2c" stroke-width="1.20" stroke-linejoin="miter"/>
<text x="126.60" y="360.30" font-size="11.6" text-anchor="start" fill="#1a1a1a" textLength="64.80" lengthAdjust="spacingAndGlyphs" >34-dFc IgGB</text>
<g stroke="#222222" stroke-width="1" fill="none">
<line x1="235.8" y1="368.00" x2="235.8" y2="520.70"/>
<line x1="232.90" y1="520.20" x2="235.80" y2="520.20"/>
<line x1="232.90" y1="459.10" x2="235.80" y2="459.10"/>
<line x1="232.90" y1="398.00" x2="235.80" y2="398.00"/>
<line x1="241.00" y1="526.70" x2="356.36" y2="526.70"/>
<line x1="241.50" y1="526.70" x2="241.50" y2="529.90"/>
<line x1="260.56" y1="526.70" x2="260.56" y2="529.90"/>
<line x1="279.62" y1="526.70" x2="279.62" y2="529.90"/>
<line x1="298.68" y1="526.70" x2="298.68" y2="529.90"/>
<line x1="317.74" y1="526.70" x2="317.74" y2="529.90"/>
<line x1="336.80" y1="526.70" x2="336.80" y2="529.90"/>
<line x1="355.86" y1="526.70" x2="355.86" y2="529.90"/>
</g>
<text x="239.20" y="541.00" font-size="11.4" text-anchor="middle" fill="#1a1a1a" textLength="10.00" lengthAdjust="spacingAndGlyphs" >-3</text>
<text x="258.26" y="541.00" font-size="11.4" text-anchor="middle" fill="#1a1a1a" textLength="10.00" lengthAdjust="spacingAndGlyphs" >-2</text>
<text x="277.32" y="541.00" font-size="11.4" text-anchor="middle" fill="#1a1a1a" textLength="10.00" lengthAdjust="spacingAndGlyphs" >-1</text>
<text x="297.78" y="541.00" font-size="11.4" text-anchor="middle" fill="#1a1a1a" textLength="5.80" lengthAdjust="spacingAndGlyphs" >0</text>
<text x="316.84" y="541.00" font-size="11.4" text-anchor="middle" fill="#1a1a1a" textLength="5.80" lengthAdjust="spacingAndGlyphs" >1</text>
<text x="335.90" y="541.00" font-size="11.4" text-anchor="middle" fill="#1a1a1a" textLength="5.80" lengthAdjust="spacingAndGlyphs" >2</text>
<text x="354.96" y="541.00" font-size="11.4" text-anchor="middle" fill="#1a1a1a" textLength="5.80" lengthAdjust="spacingAndGlyphs" >3</text>
<text x="221.18" y="554.60" font-size="13.1" fill="#1a1a1a" textLength="153.0" lengthAdjust="spacingAndGlyphs">Log<tspan font-size="10.6" dy="2.9">10</tspan><tspan dy="-2.9">[Nb construct] (nM)</tspan></text>
<polyline points="249.24,517.14 250.37,517.14 251.51,517.14 252.65,517.14 253.78,517.14 254.92,517.14 256.06,517.14 257.19,517.14 258.33,517.13 259.47,517.13 260.60,517.13 261.74,517.12 262.88,517.12 264.01,517.11 265.15,517.10 266.29,517.09 267.42,517.08 268.56,517.07 269.69,517.05 270.83,517.03 271.97,517.00 273.10,516.96 274.24,516.92 275.38,516.87 276.51,516.80 277.65,516.72 278.79,516.62 279.92,516.50 281.06,516.35 282.20,516.17 283.33,515.94 284.47,515.66 285.60,515.32 286.74,514.91 287.88,514.40 289.01,513.79 290.15,513.06 291.29,512.18 292.42,511.14 293.56,509.91 294.70,508.47 295.83,506.81 296.97,504.92 298.11,502.81 299.24,500.47 300.38,497.94 301.52,495.25 302.65,492.47 303.79,489.63 304.92,486.82 306.06,484.09 307.20,481.49 308.33,479.08 309.47,476.87 310.61,474.89 311.74,473.14 312.88,471.62 314.02,470.31 315.15,469.19 316.29,468.25 317.43,467.46 318.56,466.80 319.70,466.26 320.83,465.81 321.97,465.45 323.11,465.14 324.24,464.90 325.38,464.70 326.52,464.53 327.65,464.40 328.79,464.29 329.93,464.21 331.06,464.14 332.20,464.08 333.34,464.03 334.47,463.99 335.61,463.96 336.75,463.94 337.88,463.92 339.02,463.90 340.15,463.89" fill="none" stroke="#c89c14" stroke-width="1.3" stroke-linejoin="round"/>
<polyline points="267.42,517.10 268.33,517.09 269.24,517.08 270.15,517.07 271.06,517.05 271.97,517.04 272.88,517.02 273.79,516.99 274.69,516.97 275.60,516.94 276.51,516.90 277.42,516.86 278.33,516.80 279.24,516.74 280.15,516.67 281.06,516.59 281.97,516.49 282.88,516.38 283.79,516.25 284.70,516.09 285.60,515.91 286.51,515.70 287.42,515.46 288.33,515.18 289.24,514.86 290.15,514.49 291.06,514.07 291.97,513.59 292.88,513.05 293.79,512.44 294.70,511.76 295.61,511.01 296.51,510.19 297.42,509.30 298.33,508.35 299.24,507.33 300.15,506.27 301.06,505.17 301.97,504.05 302.88,502.92 303.79,501.79 304.70,500.69 305.61,499.62 306.52,498.60 307.42,497.63 308.33,496.73 309.24,495.90 310.15,495.14 311.06,494.45 311.97,493.83 312.88,493.28 313.79,492.79 314.70,492.36 315.61,491.99 316.52,491.66 317.43,491.37 318.33,491.12 319.24,490.91 320.15,490.73 321.06,490.57 321.97,490.43 322.88,490.32 323.79,490.22 324.70,490.13 325.61,490.06 326.52,490.00 327.43,489.95 328.34,489.90 329.24,489.86 330.15,489.83 331.06,489.80 331.97,489.78 332.88,489.76 333.79,489.74 334.70,489.73 335.61,489.72 336.52,489.71 337.43,489.70 338.34,489.69 339.25,489.69 340.15,489.68" fill="none" stroke="#8a7a10" stroke-width="1.3" stroke-linejoin="round"/>
<polyline points="267.42,517.67 268.33,517.66 269.24,517.64 270.15,517.62 271.06,517.60 271.97,517.58 272.88,517.55 273.79,517.52 274.69,517.49 275.60,517.45 276.51,517.40 277.42,517.35 278.33,517.29 279.24,517.22 280.15,517.13 281.06,517.04 281.97,516.94 282.88,516.81 283.79,516.68 284.70,516.52 285.60,516.34 286.51,516.14 287.42,515.91 288.33,515.65 289.24,515.35 290.15,515.03 291.06,514.66 291.97,514.25 292.88,513.80 293.79,513.30 294.70,512.76 295.61,512.16 296.51,511.52 297.42,510.83 298.33,510.10 299.24,509.32 300.15,508.51 301.06,507.67 301.97,506.81 302.88,505.93 303.79,505.05 304.70,504.17 305.61,503.30 306.52,502.46 307.42,501.64 308.33,500.85 309.24,500.11 310.15,499.41 311.06,498.76 311.97,498.15 312.88,497.59 313.79,497.08 314.70,496.62 315.61,496.20 316.52,495.83 317.43,495.49 318.33,495.19 319.24,494.92 320.15,494.68 321.06,494.47 321.97,494.29 322.88,494.13 323.79,493.98 324.70,493.86 325.61,493.75 326.52,493.65 327.43,493.57 328.34,493.50 329.24,493.43 330.15,493.38 331.06,493.33 331.97,493.29 332.88,493.25 333.79,493.22 334.70,493.19 335.61,493.17 336.52,493.15 337.43,493.13 338.34,493.11 339.25,493.10 340.15,493.09" fill="none" stroke="#3aa884" stroke-width="1.3" stroke-linejoin="round"/>
<polyline points="267.42,517.71 268.33,517.66 269.24,517.62 270.15,517.57 271.06,517.51 271.97,517.45 272.88,517.38 273.79,517.30 274.69,517.21 275.60,517.12 276.51,517.01 277.42,516.89 278.33,516.76 279.24,516.62 280.15,516.46 281.06,516.28 281.97,516.08 282.88,515.87 283.79,515.63 284.70,515.36 285.60,515.07 286.51,514.76 287.42,514.41 288.33,514.03 289.24,513.61 290.15,513.16 291.06,512.67 291.97,512.14 292.88,511.56 293.79,510.94 294.70,510.28 295.61,509.57 296.51,508.82 297.42,508.02 298.33,507.17 299.24,506.29 300.15,505.36 301.06,504.40 301.97,503.40 302.88,502.38 303.79,501.33 304.70,500.26 305.61,499.19 306.52,498.10 307.42,497.02 308.33,495.95 309.24,494.89 310.15,493.86 311.06,492.85 311.97,491.86 312.88,490.92 313.79,490.01 314.70,489.14 315.61,488.32 316.52,487.54 317.43,486.81 318.33,486.12 319.24,485.48 320.15,484.88 321.06,484.32 321.97,483.81 322.88,483.34 323.79,482.90 324.70,482.51 325.61,482.14 326.52,481.81 327.43,481.50 328.34,481.22 329.24,480.97 330.15,480.74 331.06,480.54 331.97,480.35 332.88,480.18 333.79,480.03 334.70,479.89 335.61,479.76 336.52,479.65 337.43,479.55 338.34,479.46 339.25,479.38 340.15,479.30" fill="none" stroke="#16ee2c" stroke-width="1.3" stroke-linejoin="round"/>
<path d="M338.61,467.33 L341.69,467.33 L340.15,464.40 Z" fill="none" stroke="#c89c14" stroke-width="0.95" stroke-linejoin="miter"/>
<path d="M329.52,462.73 L332.60,462.73 L331.06,459.80 Z" fill="none" stroke="#c89c14" stroke-width="0.95" stroke-linejoin="miter"/>
<path d="M320.43,466.33 L323.51,466.33 L321.97,463.40 Z" fill="none" stroke="#c89c14" stroke-width="0.95" stroke-linejoin="miter"/>
<path d="M311.33,470.63 L314.41,470.63 L312.87,467.70 Z" fill="none" stroke="#c89c14" stroke-width="0.95" stroke-linejoin="miter"/>
<path d="M302.24,493.23 L305.32,493.23 L303.78,490.30 Z" fill="none" stroke="#c89c14" stroke-width="0.95" stroke-linejoin="miter"/>
<path d="M293.15,506.93 L296.23,506.93 L294.69,504.00 Z" fill="none" stroke="#c89c14" stroke-width="0.95" stroke-linejoin="miter"/>
<path d="M284.05,513.93 L287.13,513.93 L285.59,511.00 Z" fill="none" stroke="#c89c14" stroke-width="0.95" stroke-linejoin="miter"/>
<path d="M274.96,516.43 L278.04,516.43 L276.50,513.50 Z" fill="none" stroke="#c89c14" stroke-width="0.95" stroke-linejoin="miter"/>
<path d="M265.87,518.03 L268.95,518.03 L267.41,515.10 Z" fill="none" stroke="#c89c14" stroke-width="0.95" stroke-linejoin="miter"/>
<path d="M256.77,518.83 L259.85,518.83 L258.31,515.90 Z" fill="none" stroke="#c89c14" stroke-width="0.95" stroke-linejoin="miter"/>
<path d="M247.68,518.83 L250.76,518.83 L249.22,515.90 Z" fill="none" stroke="#c89c14" stroke-width="0.95" stroke-linejoin="miter"/>
<path d="M338.63,490.37 L341.67,490.37 L340.15,487.58 Z" fill="#8a7a10"/>
<path d="M329.54,488.77 L332.58,488.77 L331.06,485.98 Z" fill="#8a7a10"/>
<path d="M320.45,490.37 L323.49,490.37 L321.97,487.58 Z" fill="#8a7a10"/>
<path d="M311.35,494.07 L314.39,494.07 L312.87,491.28 Z" fill="#8a7a10"/>
<path d="M302.26,503.67 L305.30,503.67 L303.78,500.88 Z" fill="#8a7a10"/>
<path d="M293.17,511.67 L296.21,511.67 L294.69,508.88 Z" fill="#8a7a10"/>
<path d="M284.07,515.67 L287.11,515.67 L285.59,512.88 Z" fill="#8a7a10"/>
<path d="M274.98,516.47 L278.02,516.47 L276.50,513.68 Z" fill="#8a7a10"/>
<path d="M265.89,517.67 L268.93,517.67 L267.41,514.88 Z" fill="#8a7a10"/>
<rect x="338.53" y="492.57" width="3.25" height="3.25" fill="none" stroke="#3aa884" stroke-width="0.95"/>
<rect x="329.44" y="491.27" width="3.25" height="3.25" fill="none" stroke="#3aa884" stroke-width="0.95"/>
<rect x="320.34" y="491.57" width="3.25" height="3.25" fill="none" stroke="#3aa884" stroke-width="0.95"/>
<rect x="311.25" y="496.57" width="3.25" height="3.25" fill="none" stroke="#3aa884" stroke-width="0.95"/>
<rect x="302.16" y="502.77" width="3.25" height="3.25" fill="none" stroke="#3aa884" stroke-width="0.95"/>
<rect x="293.06" y="509.18" width="3.25" height="3.25" fill="none" stroke="#3aa884" stroke-width="0.95"/>
<rect x="283.97" y="513.17" width="3.25" height="3.25" fill="none" stroke="#3aa884" stroke-width="0.95"/>
<rect x="274.87" y="515.17" width="3.25" height="3.25" fill="none" stroke="#3aa884" stroke-width="0.95"/>
<rect x="265.78" y="516.17" width="3.25" height="3.25" fill="none" stroke="#3aa884" stroke-width="0.95"/>
<rect x="338.45" y="477.60" width="3.40" height="3.40" fill="#16ee2c"/>
<rect x="329.36" y="479.90" width="3.40" height="3.40" fill="#16ee2c"/>
<rect x="320.27" y="484.20" width="3.40" height="3.40" fill="#16ee2c"/>
<rect x="311.17" y="487.50" width="3.40" height="3.40" fill="#16ee2c"/>
<rect x="302.08" y="501.40" width="3.40" height="3.40" fill="#16ee2c"/>
<rect x="292.99" y="510.20" width="3.40" height="3.40" fill="#16ee2c"/>
<rect x="283.89" y="514.00" width="3.40" height="3.40" fill="#16ee2c"/>
<rect x="274.80" y="515.90" width="3.40" height="3.40" fill="#16ee2c"/>
<rect x="265.71" y="516.80" width="3.40" height="3.40" fill="#16ee2c"/>
<rect x="256.75" y="309.65" width="5.50" height="5.50" fill="#16ee2c"/>
<text x="268.80" y="315.50" font-size="11.6" text-anchor="start" fill="#1a1a1a" textLength="30.40" lengthAdjust="spacingAndGlyphs" >34-41</text>
<rect x="257.45" y="324.75" width="4.10" height="4.10" fill="none" stroke="#3aa884" stroke-width="1.20"/>
<text x="268.80" y="329.90" font-size="11.6" text-anchor="start" fill="#1a1a1a" textLength="81.20" lengthAdjust="spacingAndGlyphs" >34-41-hFc IgG1</text>
<path d="M256.80,343.39 L262.20,343.39 L259.50,338.42 Z" fill="#8a7a10"/>
<text x="268.80" y="344.40" font-size="11.6" text-anchor="start" fill="#1a1a1a" textLength="82.80" lengthAdjust="spacingAndGlyphs" >34-41-dFc IgGA</text>
<path d="M257.66,357.17 L261.34,357.17 L259.50,353.67 Z" fill="none" stroke="#c89c14" stroke-width="1.20" stroke-linejoin="miter"/>
<text x="268.80" y="358.80" font-size="11.6" text-anchor="start" fill="#1a1a1a" textLength="82.40" lengthAdjust="spacingAndGlyphs" >34-41-dFc IgGB</text>
<g stroke="#222222" stroke-width="1" fill="none">
<line x1="403.7" y1="368.00" x2="403.7" y2="520.70"/>
<line x1="400.80" y1="520.20" x2="403.70" y2="520.20"/>
<line x1="400.80" y1="459.10" x2="403.70" y2="459.10"/>
<line x1="400.80" y1="398.00" x2="403.70" y2="398.00"/>
<line x1="408.90" y1="526.70" x2="524.26" y2="526.70"/>
<line x1="409.40" y1="526.70" x2="409.40" y2="529.90"/>
<line x1="428.46" y1="526.70" x2="428.46" y2="529.90"/>
<line x1="447.52" y1="526.70" x2="447.52" y2="529.90"/>
<line x1="466.58" y1="526.70" x2="466.58" y2="529.90"/>
<line x1="485.64" y1="526.70" x2="485.64" y2="529.90"/>
<line x1="504.70" y1="526.70" x2="504.70" y2="529.90"/>
<line x1="523.76" y1="526.70" x2="523.76" y2="529.90"/>
</g>
<text x="407.10" y="541.00" font-size="11.4" text-anchor="middle" fill="#1a1a1a" textLength="10.00" lengthAdjust="spacingAndGlyphs" >-3</text>
<text x="426.16" y="541.00" font-size="11.4" text-anchor="middle" fill="#1a1a1a" textLength="10.00" lengthAdjust="spacingAndGlyphs" >-2</text>
<text x="445.22" y="541.00" font-size="11.4" text-anchor="middle" fill="#1a1a1a" textLength="10.00" lengthAdjust="spacingAndGlyphs" >-1</text>
<text x="465.68" y="541.00" font-size="11.4" text-anchor="middle" fill="#1a1a1a" textLength="5.80" lengthAdjust="spacingAndGlyphs" >0</text>
<text x="484.74" y="541.00" font-size="11.4" text-anchor="middle" fill="#1a1a1a" textLength="5.80" lengthAdjust="spacingAndGlyphs" >1</text>
<text x="503.80" y="541.00" font-size="11.4" text-anchor="middle" fill="#1a1a1a" textLength="5.80" lengthAdjust="spacingAndGlyphs" >2</text>
<text x="522.86" y="541.00" font-size="11.4" text-anchor="middle" fill="#1a1a1a" textLength="5.80" lengthAdjust="spacingAndGlyphs" >3</text>
<text x="389.08" y="554.60" font-size="13.1" fill="#1a1a1a" textLength="153.0" lengthAdjust="spacingAndGlyphs">Log<tspan font-size="10.6" dy="2.9">10</tspan><tspan dy="-2.9">[Nb construct] (nM)</tspan></text>
<polyline points="417.14,516.23 418.27,516.23 419.41,516.23 420.55,516.23 421.68,516.23 422.82,516.23 423.96,516.23 425.09,516.23 426.23,516.22 427.37,516.22 428.50,516.22 429.64,516.22 430.78,516.22 431.91,516.22 433.05,516.21 434.19,516.21 435.32,516.21 436.46,516.20 437.59,516.20 438.73,516.19 439.87,516.18 441.00,516.17 442.14,516.16 443.28,516.14 444.41,516.12 445.55,516.09 446.69,516.06 447.82,516.03 448.96,515.98 450.10,515.92 451.23,515.85 452.37,515.77 453.50,515.66 454.64,515.54 455.78,515.38 456.91,515.19 458.05,514.95 459.19,514.66 460.32,514.31 461.46,513.88 462.60,513.35 463.73,512.71 464.87,511.93 466.01,510.98 467.14,509.83 468.28,508.45 469.42,506.79 470.55,504.81 471.69,502.46 472.82,499.68 473.96,496.43 475.10,492.67 476.23,488.35 477.37,483.46 478.51,478.01 479.64,472.03 480.78,465.57 481.92,458.74 483.05,451.64 484.19,444.44 485.33,437.26 486.46,430.28 487.60,423.60 488.73,417.36 489.87,411.62 491.01,406.43 492.14,401.81 493.28,397.75 494.42,394.23 495.55,391.20 496.69,388.63 497.83,386.45 498.96,384.63 500.10,383.10 501.24,381.84 502.37,380.79 503.51,379.92 504.65,379.21 505.78,378.63 506.92,378.14 508.05,377.75" fill="none" stroke="#1c1cae" stroke-width="1.45" stroke-linejoin="round"/>
<polyline points="417.14,516.19 418.27,516.18 419.41,516.17 420.55,516.16 421.68,516.14 422.82,516.13 423.96,516.11 425.09,516.09 426.23,516.06 427.37,516.03 428.50,515.99 429.64,515.95 430.78,515.90 431.91,515.84 433.05,515.76 434.19,515.67 435.32,515.57 436.46,515.45 437.59,515.30 438.73,515.13 439.87,514.93 441.00,514.69 442.14,514.41 443.28,514.07 444.41,513.67 445.55,513.21 446.69,512.66 447.82,512.01 448.96,511.25 450.10,510.36 451.23,509.32 452.37,508.10 453.50,506.69 454.64,505.06 455.78,503.18 456.91,501.01 458.05,498.55 459.19,495.75 460.32,492.61 461.46,489.10 462.60,485.21 463.73,480.96 464.87,476.36 466.01,471.43 467.14,466.23 468.28,460.81 469.42,455.24 470.55,449.60 471.69,443.97 472.82,438.44 473.96,433.07 475.10,427.94 476.23,423.10 477.37,418.59 478.51,414.45 479.64,410.67 480.78,407.26 481.92,404.21 483.05,401.51 484.19,399.14 485.33,397.05 486.46,395.24 487.60,393.68 488.73,392.32 489.87,391.16 491.01,390.16 492.14,389.31 493.28,388.58 494.42,387.97 495.55,387.44 496.69,386.99 497.83,386.62 498.96,386.30 500.10,386.02 501.24,385.80 502.37,385.60 503.51,385.44 504.65,385.30 505.78,385.18 506.92,385.09 508.05,385.00" fill="none" stroke="#c9a0f2" stroke-width="1.3" stroke-linejoin="round"/>
<polyline points="417.14,510.77 418.27,510.73 419.41,510.68 420.55,510.63 421.68,510.57 422.82,510.50 423.96,510.43 425.09,510.34 426.23,510.23 427.37,510.12 428.50,509.98 429.64,509.83 430.78,509.66 431.91,509.46 433.05,509.23 434.19,508.97 435.32,508.67 436.46,508.33 437.59,507.94 438.73,507.50 439.87,507.00 441.00,506.43 442.14,505.78 443.28,505.05 444.41,504.22 445.55,503.29 446.69,502.24 447.82,501.06 448.96,499.74 450.10,498.26 451.23,496.62 452.37,494.81 453.50,492.80 454.64,490.61 455.78,488.21 456.91,485.60 458.05,482.79 459.19,479.79 460.32,476.59 461.46,473.22 462.60,469.69 463.73,466.03 464.87,462.26 466.01,458.42 467.14,454.55 468.28,450.68 469.42,446.84 470.55,443.07 471.69,439.41 472.82,435.88 473.96,432.50 475.10,429.30 476.23,426.29 477.37,423.48 478.51,420.87 479.64,418.47 480.78,416.27 481.92,414.26 483.05,412.44 484.19,410.80 485.33,409.32 486.46,408.00 487.60,406.81 488.73,405.76 489.87,404.83 491.01,404.00 492.14,403.26 493.28,402.62 494.42,402.04 495.55,401.54 496.69,401.10 497.83,400.71 498.96,400.37 500.10,400.07 501.24,399.81 502.37,399.58 503.51,399.38 504.65,399.21 505.78,399.05 506.92,398.92 508.05,398.80" fill="none" stroke="#2c46cc" stroke-width="1.3" stroke-linejoin="round"/>
<polyline points="435.32,519.55 436.23,519.54 437.14,519.54 438.05,519.53 438.96,519.52 439.87,519.51 440.78,519.51 441.69,519.50 442.59,519.49 443.50,519.47 444.41,519.46 445.32,519.44 446.23,519.43 447.14,519.41 448.05,519.39 448.96,519.37 449.87,519.34 450.78,519.31 451.69,519.28 452.60,519.24 453.50,519.20 454.41,519.16 455.32,519.11 456.23,519.06 457.14,519.00 458.05,518.93 458.96,518.86 459.87,518.77 460.78,518.68 461.69,518.58 462.60,518.47 463.51,518.34 464.41,518.20 465.32,518.05 466.23,517.88 467.14,517.70 468.05,517.49 468.96,517.27 469.87,517.02 470.78,516.75 471.69,516.45 472.60,516.13 473.51,515.78 474.42,515.40 475.32,514.99 476.23,514.55 477.14,514.07 478.05,513.56 478.96,513.01 479.87,512.43 480.78,511.81 481.69,511.17 482.60,510.49 483.51,509.78 484.42,509.04 485.33,508.28 486.23,507.49 487.14,506.69 488.05,505.88 488.96,505.06 489.87,504.24 490.78,503.42 491.69,502.61 492.60,501.81 493.51,501.02 494.42,500.26 495.33,499.52 496.24,498.81 497.14,498.12 498.05,497.47 498.96,496.86 499.87,496.27 500.78,495.72 501.69,495.21 502.60,494.73 503.51,494.28 504.42,493.87 505.33,493.49 506.24,493.13 507.15,492.81 508.05,492.51" fill="none" stroke="#8a78cc" stroke-width="1.3" stroke-linejoin="round"/>
<path d="M506.74,380.15 L509.36,380.15 L508.05,377.66 Z" fill="none" stroke="#1c1cae" stroke-width="0.95" stroke-linejoin="miter"/>
<path d="M497.65,386.25 L500.27,386.25 L498.96,383.76 Z" fill="none" stroke="#1c1cae" stroke-width="0.95" stroke-linejoin="miter"/>
<path d="M488.56,415.65 L491.18,415.65 L489.87,413.16 Z" fill="none" stroke="#1c1cae" stroke-width="0.95" stroke-linejoin="miter"/>
<path d="M479.46,470.85 L482.08,470.85 L480.77,468.36 Z" fill="none" stroke="#1c1cae" stroke-width="0.95" stroke-linejoin="miter"/>
<path d="M470.37,497.25 L472.99,497.25 L471.68,494.76 Z" fill="none" stroke="#1c1cae" stroke-width="0.95" stroke-linejoin="miter"/>
<path d="M461.28,512.05 L463.90,512.05 L462.59,509.56 Z" fill="none" stroke="#1c1cae" stroke-width="0.95" stroke-linejoin="miter"/>
<path d="M452.18,515.35 L454.80,515.35 L453.49,512.86 Z" fill="none" stroke="#1c1cae" stroke-width="0.95" stroke-linejoin="miter"/>
<path d="M443.09,517.35 L445.71,517.35 L444.40,514.86 Z" fill="none" stroke="#1c1cae" stroke-width="0.95" stroke-linejoin="miter"/>
<path d="M434.00,517.55 L436.62,517.55 L435.31,515.06 Z" fill="none" stroke="#1c1cae" stroke-width="0.95" stroke-linejoin="miter"/>
<path d="M506.44,393.05 L509.67,393.05 L508.05,390.08 Z" fill="#c9a0f2"/>
<path d="M497.35,386.25 L500.58,386.25 L498.96,383.28 Z" fill="#c9a0f2"/>
<path d="M488.25,387.75 L491.48,387.75 L489.87,384.78 Z" fill="#c9a0f2"/>
<path d="M479.16,408.35 L482.39,408.35 L480.77,405.38 Z" fill="#c9a0f2"/>
<path d="M470.07,452.25 L473.30,452.25 L471.68,449.28 Z" fill="#c9a0f2"/>
<path d="M460.97,490.85 L464.20,490.85 L462.59,487.88 Z" fill="#c9a0f2"/>
<path d="M451.88,508.15 L455.11,508.15 L453.49,505.18 Z" fill="#c9a0f2"/>
<path d="M442.78,514.75 L446.01,514.75 L444.40,511.78 Z" fill="#c9a0f2"/>
<path d="M433.69,518.75 L436.92,518.75 L435.31,515.78 Z" fill="#c9a0f2"/>
<path d="M424.60,520.55 L427.83,520.55 L426.21,517.58 Z" fill="#c9a0f2"/>
<path d="M415.50,520.55 L418.73,520.55 L417.12,517.58 Z" fill="#c9a0f2"/>
<rect x="506.43" y="404.38" width="3.25" height="3.25" fill="none" stroke="#2c46cc" stroke-width="0.95"/>
<rect x="497.34" y="397.77" width="3.25" height="3.25" fill="none" stroke="#2c46cc" stroke-width="0.95"/>
<rect x="488.24" y="397.77" width="3.25" height="3.25" fill="none" stroke="#2c46cc" stroke-width="0.95"/>
<rect x="479.15" y="412.98" width="3.25" height="3.25" fill="none" stroke="#2c46cc" stroke-width="0.95"/>
<rect x="470.06" y="449.98" width="3.25" height="3.25" fill="none" stroke="#2c46cc" stroke-width="0.95"/>
<rect x="460.96" y="463.48" width="3.25" height="3.25" fill="none" stroke="#2c46cc" stroke-width="0.95"/>
<rect x="451.87" y="492.57" width="3.25" height="3.25" fill="none" stroke="#2c46cc" stroke-width="0.95"/>
<rect x="442.77" y="496.18" width="3.25" height="3.25" fill="none" stroke="#2c46cc" stroke-width="0.95"/>
<rect x="433.68" y="505.77" width="3.25" height="3.25" fill="none" stroke="#2c46cc" stroke-width="0.95"/>
<rect x="424.59" y="510.67" width="3.25" height="3.25" fill="none" stroke="#2c46cc" stroke-width="0.95"/>
<rect x="415.49" y="511.38" width="3.25" height="3.25" fill="none" stroke="#2c46cc" stroke-width="0.95"/>
<rect x="506.44" y="491.28" width="3.23" height="3.23" fill="#8a78cc"/>
<rect x="497.35" y="495.88" width="3.23" height="3.23" fill="#8a78cc"/>
<rect x="488.25" y="502.49" width="3.23" height="3.23" fill="#8a78cc"/>
<rect x="479.16" y="511.38" width="3.23" height="3.23" fill="#8a78cc"/>
<rect x="470.07" y="515.68" width="3.23" height="3.23" fill="#8a78cc"/>
<rect x="460.97" y="517.68" width="3.23" height="3.23" fill="#8a78cc"/>
<rect x="451.88" y="518.18" width="3.23" height="3.23" fill="#8a78cc"/>
<rect x="442.78" y="518.49" width="3.23" height="3.23" fill="#8a78cc"/>
<rect x="433.69" y="518.49" width="3.23" height="3.23" fill="#8a78cc"/>
<rect x="441.65" y="312.45" width="5.50" height="5.50" fill="#8a78cc"/>
<text x="453.20" y="318.90" font-size="11.6" text-anchor="start" fill="#1a1a1a" textLength="29.80" lengthAdjust="spacingAndGlyphs" >Nb41</text>
<rect x="442.35" y="327.45" width="4.10" height="4.10" fill="none" stroke="#2c46cc" stroke-width="1.20"/>
<text x="453.20" y="333.20" font-size="11.6" text-anchor="start" fill="#1a1a1a" textLength="63.60" lengthAdjust="spacingAndGlyphs" >41-hFc IgG1</text>
<path d="M441.70,346.09 L447.10,346.09 L444.40,341.12 Z" fill="#c9a0f2"/>
<text x="453.20" y="347.70" font-size="11.6" text-anchor="start" fill="#1a1a1a" textLength="65.80" lengthAdjust="spacingAndGlyphs" >41-dFc IgGA</text>
<path d="M442.56,359.87 L446.24,359.87 L444.40,356.37 Z" fill="none" stroke="#1c1cae" stroke-width="1.20" stroke-linejoin="miter"/>
<text x="453.20" y="362.10" font-size="11.6" text-anchor="start" fill="#1a1a1a" textLength="65.40" lengthAdjust="spacingAndGlyphs" >41-dFc IgGB</text>
<g stroke="#222222" stroke-width="1" fill="none">
<line x1="567.8" y1="367.30" x2="567.8" y2="520.00"/>
<line x1="564.90" y1="519.50" x2="567.80" y2="519.50"/>
<line x1="564.90" y1="458.40" x2="567.80" y2="458.40"/>
<line x1="564.90" y1="397.30" x2="567.80" y2="397.30"/>
<line x1="573.00" y1="526.00" x2="688.36" y2="526.00"/>
<line x1="573.50" y1="526.00" x2="573.50" y2="529.20"/>
<line x1="592.56" y1="526.00" x2="592.56" y2="529.20"/>
<line x1="611.62" y1="526.00" x2="611.62" y2="529.20"/>
<line x1="630.68" y1="526.00" x2="630.68" y2="529.20"/>
<line x1="649.74" y1="526.00" x2="649.74" y2="529.20"/>
<line x1="668.80" y1="526.00" x2="668.80" y2="529.20"/>
<line x1="687.86" y1="526.00" x2="687.86" y2="529.20"/>
</g>
<text x="571.20" y="540.30" font-size="11.4" text-anchor="middle" fill="#1a1a1a" textLength="10.00" lengthAdjust="spacingAndGlyphs" >-3</text>
<text x="590.26" y="540.30" font-size="11.4" text-anchor="middle" fill="#1a1a1a" textLength="10.00" lengthAdjust="spacingAndGlyphs" >-2</text>
<text x="609.32" y="540.30" font-size="11.4" text-anchor="middle" fill="#1a1a1a" textLength="10.00" lengthAdjust="spacingAndGlyphs" >-1</text>
<text x="629.78" y="540.30" font-size="11.4" text-anchor="middle" fill="#1a1a1a" textLength="5.80" lengthAdjust="spacingAndGlyphs" >0</text>
<text x="648.84" y="540.30" font-size="11.4" text-anchor="middle" fill="#1a1a1a" textLength="5.80" lengthAdjust="spacingAndGlyphs" >1</text>
<text x="667.90" y="540.30" font-size="11.4" text-anchor="middle" fill="#1a1a1a" textLength="5.80" lengthAdjust="spacingAndGlyphs" >2</text>
<text x="686.96" y="540.30" font-size="11.4" text-anchor="middle" fill="#1a1a1a" textLength="5.80" lengthAdjust="spacingAndGlyphs" >3</text>
<text x="553.18" y="553.90" font-size="13.1" fill="#1a1a1a" textLength="153.0" lengthAdjust="spacingAndGlyphs">Log<tspan font-size="10.6" dy="2.9">10</tspan><tspan dy="-2.9">[Nb construct] (nM)</tspan></text>
<polyline points="581.24,517.67 582.37,517.67 583.51,517.67 584.65,517.66 585.78,517.66 586.92,517.66 588.06,517.66 589.19,517.66 590.33,517.66 591.47,517.66 592.60,517.65 593.74,517.65 594.88,517.65 596.01,517.64 597.15,517.63 598.29,517.63 599.42,517.61 600.56,517.60 601.69,517.58 602.83,517.55 603.97,517.52 605.10,517.48 606.24,517.43 607.38,517.37 608.51,517.28 609.65,517.18 610.79,517.04 611.92,516.87 613.06,516.65 614.20,516.37 615.33,516.02 616.47,515.58 617.60,515.03 618.74,514.34 619.88,513.49 621.01,512.44 622.15,511.18 623.29,509.66 624.42,507.87 625.56,505.81 626.70,503.47 627.83,500.88 628.97,498.09 630.11,495.18 631.24,492.22 632.38,489.31 633.52,486.52 634.65,483.93 635.79,481.59 636.92,479.52 638.06,477.73 639.20,476.21 640.33,474.94 641.47,473.89 642.61,473.04 643.74,472.35 644.88,471.80 646.02,471.35 647.15,471.00 648.29,470.72 649.43,470.50 650.56,470.33 651.70,470.19 652.83,470.09 653.97,470.00 655.11,469.94 656.24,469.89 657.38,469.85 658.52,469.82 659.65,469.79 660.79,469.77 661.93,469.76 663.06,469.75 664.20,469.74 665.34,469.73 666.47,469.72 667.61,469.72 668.75,469.72 669.88,469.71 671.02,469.71 672.15,469.71" fill="none" stroke="#1e1e88" stroke-width="1.3" stroke-linejoin="round"/>
<polyline points="599.42,515.07 600.33,515.05 601.24,515.02 602.15,514.98 603.06,514.94 603.97,514.88 604.88,514.82 605.79,514.75 606.69,514.67 607.60,514.57 608.51,514.45 609.42,514.32 610.33,514.16 611.24,513.97 612.15,513.75 613.06,513.50 613.97,513.20 614.88,512.85 615.79,512.44 616.70,511.96 617.60,511.41 618.51,510.77 619.42,510.03 620.33,509.18 621.24,508.21 622.15,507.10 623.06,505.84 623.97,504.41 624.88,502.82 625.79,501.05 626.70,499.10 627.61,496.96 628.51,494.65 629.42,492.18 630.33,489.57 631.24,486.84 632.15,484.02 633.06,481.16 633.97,478.28 634.88,475.42 635.79,472.63 636.70,469.94 637.61,467.38 638.52,464.97 639.42,462.72 640.33,460.65 641.24,458.77 642.15,457.06 643.06,455.53 643.97,454.17 644.88,452.97 645.79,451.91 646.70,450.98 647.61,450.17 648.52,449.47 649.43,448.87 650.33,448.34 651.24,447.89 652.15,447.51 653.06,447.17 653.97,446.89 654.88,446.65 655.79,446.44 656.70,446.27 657.61,446.12 658.52,445.99 659.43,445.88 660.34,445.79 661.24,445.71 662.15,445.64 663.06,445.58 663.97,445.53 664.88,445.49 665.79,445.46 666.70,445.43 667.61,445.40 668.52,445.38 669.43,445.36 670.34,445.35 671.25,445.34 672.15,445.33" fill="none" stroke="#2684f0" stroke-width="1.3" stroke-linejoin="round"/>
<polyline points="599.42,514.70 600.33,514.66 601.24,514.62 602.15,514.58 603.06,514.53 603.97,514.47 604.88,514.40 605.79,514.32 606.69,514.23 607.60,514.13 608.51,514.01 609.42,513.87 610.33,513.71 611.24,513.53 612.15,513.33 613.06,513.09 613.97,512.82 614.88,512.51 615.79,512.16 616.70,511.75 617.60,511.30 618.51,510.78 619.42,510.20 620.33,509.53 621.24,508.79 622.15,507.96 623.06,507.03 623.97,506.00 624.88,504.85 625.79,503.60 626.70,502.22 627.61,500.73 628.51,499.12 629.42,497.39 630.33,495.56 631.24,493.63 632.15,491.61 633.06,489.53 633.97,487.40 634.88,485.23 635.79,483.07 636.70,480.91 637.61,478.79 638.52,476.73 639.42,474.74 640.33,472.84 641.24,471.05 642.15,469.36 643.06,467.79 643.97,466.34 644.88,465.00 645.79,463.78 646.70,462.68 647.61,461.68 648.52,460.79 649.43,459.99 650.33,459.27 651.24,458.64 652.15,458.08 653.06,457.58 653.97,457.14 654.88,456.76 655.79,456.42 656.70,456.13 657.61,455.87 658.52,455.64 659.43,455.44 660.34,455.27 661.24,455.12 662.15,454.99 663.06,454.88 663.97,454.78 664.88,454.69 665.79,454.62 666.70,454.55 667.61,454.49 668.52,454.44 669.43,454.40 670.34,454.37 671.25,454.33 672.15,454.31" fill="none" stroke="#2228e0" stroke-width="1.3" stroke-linejoin="round"/>
<polyline points="599.42,515.68 600.33,515.65 601.24,515.62 602.15,515.58 603.06,515.53 603.97,515.48 604.88,515.42 605.79,515.34 606.69,515.25 607.60,515.15 608.51,515.03 609.42,514.88 610.33,514.72 611.24,514.52 612.15,514.29 613.06,514.01 613.97,513.69 614.88,513.32 615.79,512.88 616.70,512.36 617.60,511.76 618.51,511.06 619.42,510.25 620.33,509.30 621.24,508.21 622.15,506.95 623.06,505.49 623.97,503.83 624.88,501.93 625.79,499.78 626.70,497.35 627.61,494.63 628.51,491.61 629.42,488.28 630.33,484.65 631.24,480.72 632.15,476.51 633.06,472.07 633.97,467.44 634.88,462.66 635.79,457.80 636.70,452.92 637.61,448.09 638.52,443.37 639.42,438.83 640.33,434.50 641.24,430.43 642.15,426.64 643.06,423.16 643.97,419.98 644.88,417.11 645.79,414.54 646.70,412.25 647.61,410.23 648.52,408.45 649.43,406.89 650.33,405.54 651.24,404.36 652.15,403.34 653.06,402.46 653.97,401.71 654.88,401.06 655.79,400.51 656.70,400.03 657.61,399.62 658.52,399.28 659.43,398.98 660.34,398.73 661.24,398.51 662.15,398.33 663.06,398.18 663.97,398.04 664.88,397.93 665.79,397.84 666.70,397.75 667.61,397.69 668.52,397.63 669.43,397.58 670.34,397.54 671.25,397.50 672.15,397.47" fill="none" stroke="#12e6f0" stroke-width="1.3" stroke-linejoin="round"/>
<path d="M670.84,471.65 L673.46,471.65 L672.15,469.16 Z" fill="none" stroke="#1e1e88" stroke-width="0.95" stroke-linejoin="miter"/>
<path d="M661.75,474.15 L664.37,474.15 L663.06,471.66 Z" fill="none" stroke="#1e1e88" stroke-width="0.95" stroke-linejoin="miter"/>
<path d="M652.66,470.85 L655.28,470.85 L653.97,468.36 Z" fill="none" stroke="#1e1e88" stroke-width="0.95" stroke-linejoin="miter"/>
<path d="M643.56,469.95 L646.18,469.95 L644.87,467.46 Z" fill="none" stroke="#1e1e88" stroke-width="0.95" stroke-linejoin="miter"/>
<path d="M634.47,485.65 L637.09,485.65 L635.78,483.16 Z" fill="none" stroke="#1e1e88" stroke-width="0.95" stroke-linejoin="miter"/>
<path d="M625.38,503.85 L628.00,503.85 L626.69,501.36 Z" fill="none" stroke="#1e1e88" stroke-width="0.95" stroke-linejoin="miter"/>
<path d="M616.28,512.95 L618.90,512.95 L617.59,510.46 Z" fill="none" stroke="#1e1e88" stroke-width="0.95" stroke-linejoin="miter"/>
<path d="M607.19,517.05 L609.81,517.05 L608.50,514.56 Z" fill="none" stroke="#1e1e88" stroke-width="0.95" stroke-linejoin="miter"/>
<path d="M598.10,518.65 L600.72,518.65 L599.41,516.16 Z" fill="none" stroke="#1e1e88" stroke-width="0.95" stroke-linejoin="miter"/>
<path d="M589.00,519.55 L591.62,519.55 L590.31,517.06 Z" fill="none" stroke="#1e1e88" stroke-width="0.95" stroke-linejoin="miter"/>
<path d="M579.91,520.05 L582.53,520.05 L581.22,517.56 Z" fill="none" stroke="#1e1e88" stroke-width="0.95" stroke-linejoin="miter"/>
<path d="M670.82,443.43 L673.48,443.43 L672.15,440.98 Z" fill="#2684f0"/>
<path d="M661.73,446.33 L664.39,446.33 L663.06,443.88 Z" fill="#2684f0"/>
<path d="M652.64,444.63 L655.30,444.63 L653.97,442.18 Z" fill="#2684f0"/>
<path d="M643.54,456.13 L646.20,456.13 L644.87,453.68 Z" fill="#2684f0"/>
<path d="M634.45,480.33 L637.11,480.33 L635.78,477.88 Z" fill="#2684f0"/>
<path d="M625.36,499.33 L628.02,499.33 L626.69,496.88 Z" fill="#2684f0"/>
<path d="M616.26,509.33 L618.92,509.33 L617.59,506.88 Z" fill="#2684f0"/>
<path d="M607.17,513.83 L609.83,513.83 L608.50,511.38 Z" fill="#2684f0"/>
<path d="M598.08,516.33 L600.74,516.33 L599.41,513.88 Z" fill="#2684f0"/>
<rect x="670.53" y="459.37" width="3.25" height="3.25" fill="none" stroke="#2228e0" stroke-width="0.95"/>
<rect x="661.44" y="449.47" width="3.25" height="3.25" fill="none" stroke="#2228e0" stroke-width="0.95"/>
<rect x="652.34" y="450.77" width="3.25" height="3.25" fill="none" stroke="#2228e0" stroke-width="0.95"/>
<rect x="643.25" y="463.97" width="3.25" height="3.25" fill="none" stroke="#2228e0" stroke-width="0.95"/>
<rect x="634.16" y="483.27" width="3.25" height="3.25" fill="none" stroke="#2228e0" stroke-width="0.95"/>
<rect x="625.06" y="497.87" width="3.25" height="3.25" fill="none" stroke="#2228e0" stroke-width="0.95"/>
<rect x="615.97" y="505.77" width="3.25" height="3.25" fill="none" stroke="#2228e0" stroke-width="0.95"/>
<rect x="606.87" y="510.67" width="3.25" height="3.25" fill="none" stroke="#2228e0" stroke-width="0.95"/>
<rect x="597.78" y="512.67" width="3.25" height="3.25" fill="none" stroke="#2228e0" stroke-width="0.95"/>
<rect x="670.79" y="395.14" width="2.72" height="2.72" fill="#12e6f0"/>
<rect x="661.70" y="400.44" width="2.72" height="2.72" fill="#12e6f0"/>
<rect x="652.61" y="400.94" width="2.72" height="2.72" fill="#12e6f0"/>
<rect x="643.51" y="416.94" width="2.72" height="2.72" fill="#12e6f0"/>
<rect x="634.42" y="458.94" width="2.72" height="2.72" fill="#12e6f0"/>
<rect x="625.33" y="496.44" width="2.72" height="2.72" fill="#12e6f0"/>
<rect x="616.23" y="508.44" width="2.72" height="2.72" fill="#12e6f0"/>
<rect x="607.14" y="512.44" width="2.72" height="2.72" fill="#12e6f0"/>
<rect x="598.05" y="516.24" width="2.72" height="2.72" fill="#12e6f0"/>
<rect x="599.95" y="311.25" width="5.50" height="5.50" fill="#12e6f0"/>
<text x="613.70" y="317.90" font-size="11.6" text-anchor="start" fill="#1a1a1a" textLength="30.40" lengthAdjust="spacingAndGlyphs" >41-34</text>
<rect x="600.65" y="326.35" width="4.10" height="4.10" fill="none" stroke="#2228e0" stroke-width="1.20"/>
<text x="613.70" y="332.30" font-size="11.6" text-anchor="start" fill="#1a1a1a" textLength="81.20" lengthAdjust="spacingAndGlyphs" >41-34-hFc IgG1</text>
<path d="M600.00,344.89 L605.40,344.89 L602.70,339.92 Z" fill="#2684f0"/>
<text x="613.70" y="346.70" font-size="11.6" text-anchor="start" fill="#1a1a1a" textLength="82.80" lengthAdjust="spacingAndGlyphs" >41-34-dFc IgGA</text>
<path d="M600.86,358.77 L604.54,358.77 L602.70,355.27 Z" fill="none" stroke="#1e1e88" stroke-width="1.20" stroke-linejoin="miter"/>
<text x="613.70" y="361.20" font-size="11.6" text-anchor="start" fill="#1a1a1a" textLength="82.40" lengthAdjust="spacingAndGlyphs" >41-34-dFc IgGB</text>
</svg></body></html>
